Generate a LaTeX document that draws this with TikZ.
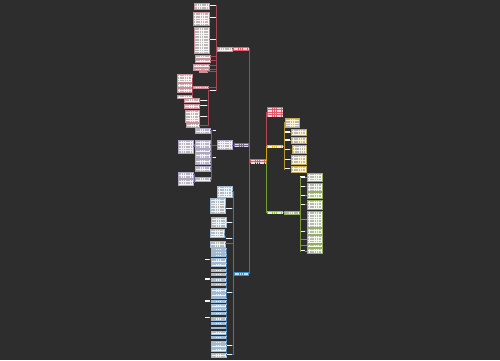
\documentclass[tikz,border=0pt]{standalone}
\definecolor{bg}{HTML}{2D2D2D}
\definecolor{rootc}{HTML}{E25A6C}
\definecolor{yelc}{HTML}{F2C200}
\definecolor{grnc}{HTML}{8DC63F}
\definecolor{purc}{HTML}{7B5EA7}
\definecolor{bluc}{HTML}{2F8FD0}
\definecolor{rline}{HTML}{A84656}
\definecolor{pline}{HTML}{6B5E94}
\definecolor{bline}{HTML}{3B78B0}
\definecolor{yline}{HTML}{B8962A}
\definecolor{gline}{HTML}{7A9A3A}
\newcommand\bx[6]{\node[#6, minimum width=#4pt, minimum height=#5pt] (#1) at ({#2+#4/2},{#3+#5/2}) {};}
\newcommand\stb[4]{\node[stubbox, minimum width=#4pt, minimum height=1.2pt] (#1) at ({#2+#4/2},{#3+0.6}) {};}
\tikzset{
  box/.style={rectangle, inner sep=0pt, outer sep=0pt, line width=0.3pt},
  txt/.style={path picture={\foreach \k in {0,...,16}{\draw[#1, line width=0.45pt, dash pattern=on 1.6pt off 0.7pt] ([xshift=0.9pt,yshift={-1.2pt-\k*1.6pt}]path picture bounding box.north west) -- ([xshift=-0.9pt,yshift={-1.2pt-\k*1.6pt}]path picture bounding box.north east);}}},
  brbox/.style={box, fill=#1, txt=white!75!#1},
  rleaf/.style={box, fill=red!5!white, draw=rline!60!white, txt=gray!55},
  pleaf/.style={box, fill=purc!8!white, draw=pline!55!white, txt=gray!55},
  bleaf/.style={box, fill=bluc!10!white, draw=bline!50!white, txt=gray!55},
  yleaf/.style={box, fill=yelc!16!white, draw=yline!80!white, txt=gray!55},
  gleaf/.style={box, fill=grnc!10!white, draw=gline!80!white, txt=gray!55},
  stubbox/.style={box, fill=white!92!gray},
  mainln/.style={line width=0.6pt},
  subln/.style={line width=0.45pt}
}
\begin{document}
\begin{tikzpicture}[x=1pt,y=-1pt]
\fill[bg] (0,0) rectangle (500,360);
\useasboundingbox (0,0) rectangle (500,360);
% trunk x positions
\coordinate (tL) at (249.5,0);
\coordinate (tRr) at (266.5,0);
\coordinate (tR) at (216.3,0);
\coordinate (tRe) at (192.4,0);
\coordinate (tRf) at (208.3,0);
\coordinate (tP) at (211.5,0);
\coordinate (tPl) at (194,0);
\coordinate (tB) at (233,0);
\coordinate (tB2) at (226.4,0);
\coordinate (tY) at (284,0);
\coordinate (tG) at (299.8,0);

% root and main branches
\bx{root}{250}{159.3}{16}{4}{brbox=rootc}
\bx{Rb}{233}{46.7}{16}{4}{brbox=rootc}
\bx{Pb}{234}{143.3}{14.5}{3.2}{brbox=purc}
\bx{Bb}{234}{271.7}{15}{4}{brbox=bluc}
\bx{rR}{267}{107.3}{16}{10}{brbox=rootc}
\bx{Y}{267}{144.7}{16}{3.6}{brbox=yelc}
\bx{G}{267}{210.7}{16}{3.6}{brbox=grnc}

\draw[mainln, rootc!75!black] (root.west) -- (root.west -| tL) |- (Rb.east);
\draw[mainln, purc] (root.west) -- (root.west -| tL) |- (Pb.east);
\draw[mainln, bluc!85!black] (root.west) -- (root.west -| tL) |- (Bb.east);
\draw[mainln, rootc!80!black] (root.east) -- (root.east -| tRr) |- (rR.west);
\draw[mainln, yelc!85!black] (root.east) -- (root.east -| tRr) |- (Y.west);
\draw[mainln, grnc!80!black] (root.east) -- (root.east -| tRr) |- (G.west);

% ---------- red branch ----------
\bx{Rn}{217.3}{46.7}{14.5}{4}{rleaf}
\draw[subln, rline] (Rb.west) -- (Rn.east);
\bx{rA}{194.3}{2.7}{15}{6.3}{rleaf}
\bx{rB}{192.7}{11.7}{16.6}{13.3}{rleaf}
\bx{rC}{194}{26.7}{15}{26.6}{rleaf}
\bx{rD1}{195}{55}{15}{2.7}{rleaf}
\bx{rD2}{195}{59}{15}{2.7}{rleaf}
\bx{rD3}{193.3}{64}{15.7}{2.7}{rleaf}
\bx{rD4}{193.3}{67.7}{15.7}{2.3}{rleaf}
\bx{rD5}{199}{70.7}{8.3}{1.6}{rleaf}
\bx{rEn}{193.3}{85.8}{15}{2.4}{rleaf}
\bx{rE1}{176.7}{74.3}{15}{7.4}{rleaf}
\bx{rE2}{176.7}{83.3}{15}{3.4}{rleaf}
\bx{rE3}{176.7}{88.3}{15}{4}{rleaf}
\bx{rE4}{176.7}{95}{15}{2.7}{rleaf}
\bx{rF1}{184}{97.7}{15}{4}{rleaf}
\bx{rF2}{184}{104.3}{15}{3.4}{rleaf}
\bx{rF3}{185}{110}{14}{11.7}{rleaf}
\bx{rF4}{186}{123.3}{13}{3.4}{rleaf}
\stb{rs1}{210}{5.1}{5.5}
\stb{rs2}{210}{17.1}{5.5}
\stb{rs3}{210}{38.7}{5.5}
\stb{rs6}{210}{90.1}{5.5}
\stb{rf1}{200.3}{100.1}{7}
\stb{rf2}{200.3}{105.1}{7}
\stb{rf3}{200.3}{116.1}{7}
\foreach \c in {rs1,rs2,rs3,rs6,rD1,rD2,rD3,rD4,rD5,rEn}
  \draw[subln, rline] (\c.east) -- (\c.east -| tR) |- (Rn.west);
\draw[subln, rline] (rA.east) -- (rs1.west);
\draw[subln, rline] (rB.east) -- (rs2.west);
\draw[subln, rline] (rC.east) -- (rs3.west);
\foreach \c in {rE1,rE2,rE3,rE4}
  \draw[subln, rline] (\c.east) -- (\c.east -| tRe) |- (rEn.west);
\foreach \c in {rf1,rf2,rf3,rF4}
  \draw[subln, rline] (\c.east) -- (\c.east -| tRf) |- (rs6.west);
\draw[subln, rline] (rF1.east) -- (rf1.west);
\draw[subln, rline] (rF2.east) -- (rf2.west);
\draw[subln, rline] (rF3.east) -- (rf3.west);

% ---------- purple branch ----------
\bx{Pn}{217.3}{140.4}{15}{9}{pleaf}
\draw[subln, pline] (Pb.west) -- (Pn.east);
\bx{P1}{195}{127.7}{15}{5.6}{pleaf}
\bx{P2}{195}{140}{15}{8.3}{pleaf}
\bx{P3}{195}{149.3}{15}{3}{pleaf}
\bx{P4}{195}{153.3}{15}{5}{pleaf}
\bx{P5}{195}{159.3}{15}{5}{pleaf}
\bx{P6}{195}{165.7}{15}{5.3}{pleaf}
\bx{P7}{195}{176.7}{15}{4.3}{pleaf}
\bx{L1}{178.3}{140}{15}{13.3}{pleaf}
\bx{L2}{178.3}{171.7}{15}{6}{pleaf}
\bx{L3}{178.3}{179}{15}{6}{pleaf}
\stb{ps1}{212}{130.1}{4}
\stb{ps2}{212}{157.1}{4}
\foreach \c in {P1,P2,P3,P4,P5,P6,P7}
  \draw[subln, pline] (\c.east) -- (\c.east -| tP) |- (Pn.west);
\draw[subln, pline] (ps1.west) -- (ps1.west -| tP);
\draw[subln, pline] (ps2.west) -- (ps2.west -| tP);
\draw[subln, pline] (L1.east) -- (L1.east -| tPl) |- (P2.west);
\foreach \c in {L2,L3}
  \draw[subln, pline] (\c.east) -- (\c.east -| tPl) |- (P7.west);

% ---------- blue branch ----------
\bx{B0}{216.7}{186}{15}{10.7}{bleaf}
\bx{B1}{210}{198.3}{15}{15}{bleaf}
\bx{B2}{211}{217.3}{14.7}{9.4}{bleaf}
\bx{B3}{210}{229.3}{14.3}{8}{bleaf}
\bx{B4}{210}{240.7}{15}{6}{bleaf}
\stb{bs1}{226}{207.7}{5.5}
\stb{bs2}{226}{222.1}{5.5}
\stb{bs3}{226}{237.7}{5.5}
\stb{bs4}{227.2}{292.1}{4.5}
\stb{bs5}{227.2}{344.9}{4.5}
\stb{bs6}{227.2}{353.7}{4.5}
\foreach \c in {B0,bs1,bs2,bs3,B4,bs4,bs5,bs6}
  \draw[subln, bline] (\c.east) -- (\c.east -| tB) |- (Bb.west);
\draw[subln, bline] (B1.east) -- (bs1.west);
\draw[subln, bline] (B2.east) -- (bs2.west);
\draw[subln, bline] (B3.east) -- (bs3.west);
\foreach \n/\yy/\hh/\s in {1/248.3/1.7/bs4, 2/250.7/2/bs4, 3/254/2/bs4, 4/257.7/4/bs4, 5/263.3/2.7/bs4, 6/269/2/bs4, 7/273.3/1.7/bs4, 8/277.7/3.3/bs4, 9/283.3/1.7/bs4, 10/288.3/3.4/bs4, 11/293.3/2.4/bs4, 12/296.7/1.6/bs4, 13/300/2.3/bs5, 14/304.3/2.4/bs5, 15/308.3/1.7/bs5, 16/311.7/2.6/bs5, 17/316.7/3.3/bs5, 18/321.7/2.6/bs5, 19/326.7/1.6/bs5, 20/331/3.3/bs5, 21/335.7/2.6/bs5, 22/341/1.7/bs5, 23/344.3/2.4/bs5, 24/348.3/2.7/bs6, 25/353.3/3.4/bs6}{
  \bx{bl\n}{211}{\yy}{14.7}{\hh}{bleaf}
  \draw[subln, bline] (bl\n.east) -- (bl\n.east -| tB2) |- (\s.west);
}
\stb{bx1}{204.5}{258.7}{5}
\stb{bx2}{204.5}{278.4}{5}
\stb{bx3}{204.5}{300.4}{5}
\stb{bx4}{204.5}{317.1}{5}
\draw[subln, bline] (bl4.west) -- (bx1.east);
\draw[subln, bline] (bl8.west) -- (bx2.east);
\draw[subln, bline] (bl13.west) -- (bx3.east);
\draw[subln, bline] (bl17.west) -- (bx4.east);

% ---------- yellow branch ----------
\bx{C1}{285}{118.3}{14.5}{8.7}{yleaf}
\bx{Y2}{290.7}{129}{15}{6}{yleaf}
\bx{Y3}{290.7}{136.7}{15}{6.6}{yleaf}
\bx{Y4}{291.7}{145}{14}{8.3}{yleaf}
\bx{Y5}{290.7}{155}{15}{9}{yleaf}
\bx{Y6}{290.7}{166}{15}{5.7}{yleaf}
\stb{ys2}{285}{131.4}{4.5}
\stb{ys3}{285}{139.4}{4.5}
\stb{ys4}{285}{148.5}{4.5}
\stb{ys5}{285}{158.9}{4.5}
\stb{ys6}{285}{168.2}{4.5}
\foreach \c in {C1,ys2,ys3,ys4,ys5,ys6}
  \draw[subln, yline] (Y.east) -- (Y.east -| tY) |- (\c.west);
\foreach \a/\b in {ys2/Y2,ys3/Y3,ys4/Y4,ys5/Y5,ys6/Y6}
  \draw[subln, yline] (\a.east) -- (\b.west);

% ---------- green branch ----------
\bx{Gn}{284}{210.7}{15.3}{3.6}{gleaf}
\draw[subln, gline] (G.east) -- (Gn.west);
\bx{g1}{306.7}{173.3}{15.3}{7.4}{gleaf}
\bx{g2}{306.7}{182.7}{15.3}{8}{gleaf}
\bx{g3}{306.7}{192.3}{15.3}{6}{gleaf}
\bx{g4}{306.7}{200}{15.3}{9.3}{gleaf}
\bx{g5}{306.7}{210.7}{15.3}{16.6}{gleaf}
\bx{g6}{306.7}{228.3}{15.3}{5.7}{gleaf}
\bx{g7}{306.7}{235.3}{15.3}{7.7}{gleaf}
\bx{g8}{306.7}{244}{15.3}{3.3}{gleaf}
\bx{g9}{306.7}{248.3}{15.3}{5}{gleaf}
\stb{gs1}{300.3}{176.4}{4.7}
\stb{gs2}{300.3}{186.1}{4.7}
\stb{gs3}{300.3}{194.7}{4.7}
\stb{gs4}{300.3}{204}{4.7}
\stb{gs6}{300.3}{230.5}{4.7}
\stb{gs9}{300.3}{250.2}{4.7}
\foreach \c in {gs1,gs2,gs3,gs4,g5,gs6,g7,g8,gs9}
  \draw[subln, gline] (Gn.east) -- (Gn.east -| tG) |- (\c.west);
\foreach \a/\b in {gs1/g1,gs2/g2,gs3/g3,gs4/g4,gs6/g6,gs9/g9}
  \draw[subln, gline] (\a.east) -- (\b.west);
\end{tikzpicture}
\end{document}
